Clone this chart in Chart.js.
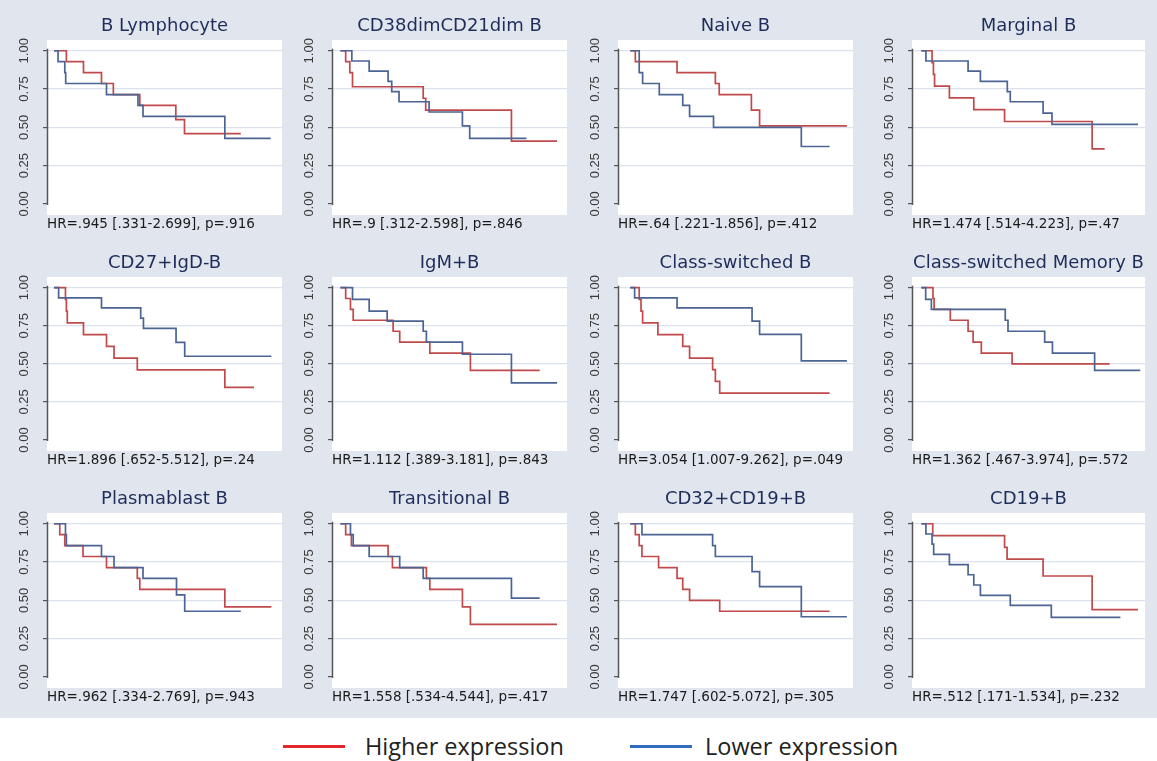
<!DOCTYPE html>
<html><head><meta charset="utf-8">
<script src="https://cdn.jsdelivr.net/npm/chart.js@4.4.1/dist/chart.umd.min.js"></script>
<style>
html,body{margin:0;padding:0;width:1157px;height:761px;overflow:hidden;background:#fff;}
#bg{position:absolute;left:0;top:0;width:1157px;height:718px;background:#e1e6ee;}
canvas{position:absolute;}
.lg-line{position:absolute;height:3px;}
.lg-text{position:absolute;font-family:"Open Sans",sans-serif;font-size:23.5px;color:#222;line-height:30px;white-space:nowrap;}
</style></head><body>
<div id="bg"></div>
<div id="panels"></div>
<div class="lg-line" style="left:283px;top:745px;width:62px;background:#e3262b;"></div>
<div class="lg-text" style="left:365px;top:731px;">Higher expression</div>
<div class="lg-line" style="left:630px;top:745px;width:62px;background:#2f6cc0;"></div>
<div class="lg-text" style="left:705px;top:731px;">Lower expression</div>
<script>
// ---- data ----
const panelTitles = ["B Lymphocyte","CD38dimCD21dim B","Naive B","Marginal B",
  "CD27+IgD-B","IgM+B","Class-switched B","Class-switched Memory B",
  "Plasmablast B","Transitional B","CD32+CD19+B","CD19+B"];
const hrLabels = ["HR=.945 [.331-2.699], p=.916","HR=.9 [.312-2.598], p=.846","HR=.64 [.221-1.856], p=.412","HR=1.474 [.514-4.223], p=.47",
  "HR=1.896 [.652-5.512], p=.24","HR=1.112 [.389-3.181], p=.843","HR=3.054 [1.007-9.262], p=.049","HR=1.362 [.467-3.974], p=.572",
  "HR=.962 [.334-2.769], p=.943","HR=1.558 [.534-4.544], p=.417","HR=1.747 [.602-5.072], p=.305","HR=.512 [.171-1.534], p=.232"];
const yTicks = [0, 0.25, 0.5, 0.75, 1];
const highTimes = [
  [0,5.4,12.9,20.8,26,37.6,53.4,57.2,81.9],
  [0,2.3,4.1,5.3,36.3,37.4,75,95],
  [0,2.2,20.5,37.3,39,53.1,56.7,95],
  [0,4.7,5.3,5.8,12.3,23,36.5,74.9,80.4],
  [0,5,5.4,5.8,12.9,23,26.3,36.5,74.9,87.7],
  [0,2.3,4.4,5.6,23.1,26,39.2,57,87.4],
  [0,3.9,4.7,5.4,12.1,23,26,36.1,37.3,39.2,87.4],
  [0,5.1,5.6,12.7,20.5,22.7,26.3,39.8,82.6],
  [0,2.5,4.7,12.7,23,36.5,37.6,74.9,95.3],
  [0,2.3,4.8,20.9,22.8,37.7,39.2,53.5,57,95],
  [0,2.2,3.9,5.1,12.4,20.5,23,26,39.2,87.4],
  [0,5,36.5,37.6,53.4,74.9,95]
];
const highSurv = [
  [1,.929,.857,.786,.714,.643,.55,.459,.459],
  [1,.929,.857,.765,.69,.612,.41,.41],
  [1,.929,.857,.786,.714,.612,.51,.51],
  [1,.923,.846,.769,.692,.615,.538,.359,.359],
  [1,.923,.846,.769,.692,.615,.538,.461,.346,.346],
  [1,.929,.857,.786,.714,.643,.571,.457,.457],
  [1,.923,.846,.769,.692,.615,.538,.462,.385,.308,.308],
  [1,.929,.857,.786,.714,.643,.571,.5,.5],
  [1,.929,.857,.786,.714,.643,.571,.457,.457],
  [1,.929,.857,.786,.714,.643,.571,.457,.343,.343],
  [1,.929,.857,.786,.714,.643,.571,.5,.429,.429],
  [1,.923,.846,.769,.659,.44,.44]
];
const lowTimes = [
  [0,1.75,4.7,5.1,23,36.8,39,74.9,95],
  [0,5,12.6,20.9,22.5,25.7,38.9,53.5,56.7,81.6],
  [0,3.9,5.4,12.7,23,26,36.5,75,87.4],
  [0,2,20.5,25.9,37.7,39,53.4,57.3,95],
  [0,2,20.8,38,39.2,53.5,57.3,95.3],
  [0,5.3,12.6,20.5,36.3,37.7,53.5,75,95],
  [0,1.9,20.5,53.4,56.7,75,95],
  [0,1.9,4.4,36.8,38,54.1,57.5,76,96],
  [0,5,5.4,20.8,26.3,39,53.7,57.3,81.9],
  [0,4.4,5.6,12.6,26,36.3,75,87.4],
  [0,5.1,36.1,37.3,53.4,56.7,75,95],
  [0,2,4.7,5.4,12.3,20.5,23,25.9,39,57,87.3]
];
const lowSurv = [
  [1,.929,.857,.786,.714,.643,.571,.428,.428],
  [1,.933,.867,.8,.733,.667,.6,.51,.428,.428],
  [1,.857,.786,.714,.643,.571,.5,.375,.375],
  [1,.933,.867,.8,.733,.667,.593,.519,.519],
  [1,.933,.867,.8,.733,.641,.55,.55],
  [1,.923,.846,.78,.714,.643,.563,.375,.375],
  [1,.933,.867,.78,.693,.52,.52],
  [1,.923,.857,.786,.714,.643,.571,.457,.457],
  [1,.929,.857,.786,.714,.643,.536,.429,.429],
  [1,.929,.857,.786,.714,.643,.514,.514],
  [1,.929,.857,.786,.688,.589,.393,.393],
  [1,.933,.867,.8,.733,.667,.6,.533,.467,.389,.389]
];

// ---- layout ----
const colLeft = [47, 332, 618, 912], colRight = [282, 567, 853, 1145];
const rowTop = [40, 277, 513], rowBottom = [215, 451, 688];
const colXMin = [-3.1, -3.7, -5.4, -4.1];
const PXU = 2.28;
const RED = '#c0494b', BLUE = '#4b6493';

const plotBg = {
  id: 'plotBg',
  beforeDraw(chart) {
    const {ctx, chartArea: a} = chart;
    ctx.save(); ctx.fillStyle = '#ffffff';
    ctx.fillRect(a.left, a.top, a.right - a.left, a.bottom - a.top);
    ctx.restore();
  },
  beforeDatasetsDraw(chart) {
    const {ctx, chartArea: a, scales: {y}} = chart;
    ctx.save(); ctx.strokeStyle = '#555'; ctx.lineWidth = 1.5;
    ctx.beginPath();
    ctx.moveTo(a.left + 0.5, y.getPixelForValue(1) - 2);
    ctx.lineTo(a.left + 0.5, y.getPixelForValue(0) + 1);
    ctx.stroke(); ctx.restore();
  }
};

const pts = (t, s) => t.map((v, k) => ({x: v, y: s[k]}));
const host = document.getElementById('panels');

for (let i = 0; i < 12; i++) {
  const r = Math.floor(i / 4), c = i % 4;
  const left = colLeft[c] - 42, top = rowTop[r] - 35;
  const w = colRight[c] - left + 6, h = rowBottom[r] + 30 - top;
  const cv = document.createElement('canvas');
  cv.width = w; cv.height = h;
  cv.style.left = left + 'px'; cv.style.top = top + 'px';
  cv.style.width = w + 'px'; cv.style.height = h + 'px';
  host.appendChild(cv);
  const xMin = colXMin[c], xMax = xMin + (colRight[c] - colLeft[c]) / PXU;
  new Chart(cv, {
    type: 'line',
    data: {datasets: [
      {label: 'Lower expression', data: pts(lowTimes[i], lowSurv[i]), borderColor: BLUE, borderWidth: 1.7,
       stepped: 'before', pointRadius: 0, fill: false},
      {label: 'Higher expression', data: pts(highTimes[i], highSurv[i]), borderColor: RED, borderWidth: 1.7,
       stepped: 'before', pointRadius: 0, fill: false}
    ]},
    options: {
      responsive: false, animation: false, events: [],
      layout: {padding: {left: 0, right: 6, top: 0, bottom: 0}},
      plugins: {
        legend: {display: false}, tooltip: {enabled: false},
        title: {display: true, text: panelTitles[i], fullSize: false, color: '#1e2d5a',
          font: {family: 'DejaVu Sans', size: 18, weight: 'normal'}, padding: {top: 10.9, bottom: 2.5}},
        subtitle: {display: true, position: 'bottom', align: 'start', fullSize: false, text: hrLabels[i],
          color: '#1a1a1a', font: {family: 'DejaVu Sans', size: 13.5, weight: 'normal'}, padding: {top: 0.9, bottom: 12.9}}
      },
      scales: {
        x: {type: 'linear', min: xMin, max: xMax, display: false},
        y: {
          min: -0.072, max: 1.07,
          afterFit(s) { s.width = 42; },
          afterBuildTicks(s) { s.ticks = yTicks.map(v => ({value: v})); },
          border: {display: false},
          grid: {color: ctx => (ctx.tick && ctx.tick.value === 0) ? 'rgba(0,0,0,0)' : '#dbe2ee',
                 tickColor: '#555', tickLength: 4, lineWidth: 1.2},
          ticks: {minRotation: 90, maxRotation: 90, crossAlign: 'center', padding: 6, color: '#3a3a3a',
                  font: {family: 'Liberation Sans', size: 13}, callback: v => Number(v).toFixed(2)}
        }
      }
    },
    plugins: [plotBg]
  });
}
</script>
</body></html>
